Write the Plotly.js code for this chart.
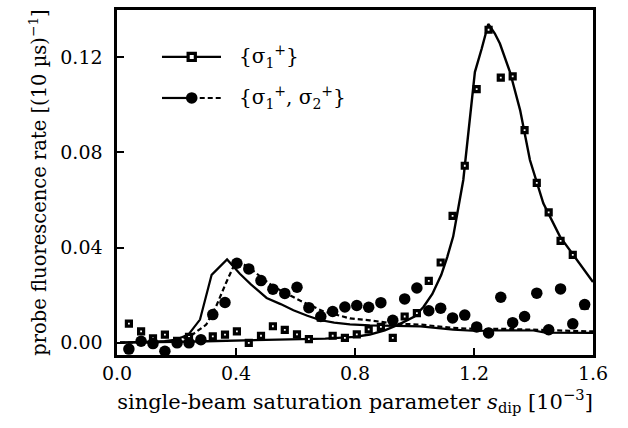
<!DOCTYPE html>
<html>
<head>
<meta charset="utf-8">
<script src="https://cdn.plot.ly/plotly-3.0.1.min.js"></script>
<style>html,body{margin:0;padding:0;background:#fff;}#chart{width:628px;height:428px;}</style>
</head>
<body>
<div id="chart"></div>
<script>
// measured sample positions (single-beam saturation parameter, 1e-3)
const sDip = [0.040,0.081,0.121,0.161,0.202,0.242,0.282,0.322,0.363,0.403,0.443,0.484,0.524,0.564,0.605,0.645,0.685,0.725,0.766,0.806,0.846,0.887,0.927,0.967,1.008,1.048,1.088,1.128,1.169,1.209,1.249,1.290,1.330,1.370,1.411,1.451,1.491,1.532,1.572];
// {sigma1+} measured rate
const rateS1 = [0.0080,0.0047,0.0018,0.0034,0.0008,0.0024,0.0012,0.0026,0.0034,0.0047,-0.0001,0.0029,0.0069,0.0054,0.0035,0.0015,0.0105,0.0029,0.0020,0.0035,0.0056,0.0066,0.0020,0.0110,0.0124,0.0260,0.0337,0.0533,0.0744,0.1066,0.1316,0.1115,0.1120,0.0894,0.0672,0.0548,0.0428,0.0369,0.0156];
// {sigma1+, sigma2+} measured rate
const rateS12 = [-0.0027,0.0006,-0.0004,-0.0036,-0.0001,-0.0001,0.0012,0.0118,0.0169,0.0334,0.0310,0.0261,0.0225,0.0207,0.0233,0.0147,0.0110,0.0131,0.0150,0.0156,0.0149,0.0168,0.0094,0.0184,0.0230,0.0134,0.0145,0.0104,0.0116,0.0066,0.0041,0.0191,0.0084,0.0110,0.0208,0.0054,0.0226,0.0079,0.0160];

// model curve for {sigma1+}
const modelS1x = [0.01,0.1,0.2,0.3,0.4,0.5,0.6,0.7,0.8,0.85,0.9,0.95,1.0,1.03,1.06,1.09,1.11,1.13,1.164,1.203,1.226,1.248,1.27,1.287,1.321,1.355,1.388,1.433,1.489,1.545,1.6];
const modelS1y = [0.0000,0.0000,0.0003,0.0006,0.0009,0.0011,0.0013,0.0017,0.0024,0.0034,0.0052,0.0078,0.0110,0.0150,0.0205,0.0285,0.0360,0.0446,0.0684,0.1138,0.1237,0.1340,0.1300,0.1258,0.1138,0.0978,0.0768,0.0586,0.0446,0.0348,0.0255];

// model curves for {sigma1+, sigma2+}
const modelS12x = [0.01,0.1,0.16,0.2,0.24,0.279,0.318,0.37,0.413,0.45,0.503,0.55,0.593,0.64,0.682,0.73,0.783,0.85,0.93,1.02,1.13,1.21,1.3,1.4,1.44,1.5,1.6];
const modelS12y = [0.0000,0.0002,0.0006,0.0013,0.0034,0.0097,0.0285,0.0350,0.0290,0.0245,0.0188,0.0162,0.0136,0.0113,0.0095,0.0084,0.0077,0.0073,0.0071,0.0068,0.0055,0.0049,0.0052,0.0051,0.0042,0.0041,0.0041];
const modelS12bx = [0.01,0.1,0.2,0.254,0.3,0.333,0.366,0.389,0.411,0.45,0.48,0.525,0.615,0.693,0.783,0.85,0.93,1.02,1.13,1.21,1.3,1.4,1.5,1.6];
const modelS12by = [0.0000,0.0001,0.0006,0.0034,0.0076,0.0152,0.0250,0.0313,0.0341,0.0310,0.0280,0.0236,0.0177,0.0132,0.0102,0.0094,0.0080,0.0076,0.0062,0.0057,0.0058,0.0055,0.0050,0.0047];

const xTicks = [0.0,0.4,0.8,1.2,1.6];
const yTicks = [0.00,0.04,0.08,0.12];
const legendNames = ['{σ<sub>1</sub><sup>+</sup>}', '{σ<sub>1</sub><sup>+</sup>, σ<sub>2</sub><sup>+</sup>}'];

const FONT = 'DejaVu Serif, serif';

const traces = [
  {x: modelS1x, y: modelS1y, mode: 'lines', line: {color: '#000', width: 2.4}, showlegend: false, hoverinfo: 'skip'},
  {x: modelS12x, y: modelS12y, mode: 'lines', line: {color: '#000', width: 2.2}, showlegend: false, hoverinfo: 'skip'},
  {x: modelS12bx, y: modelS12by, mode: 'lines', line: {color: '#000', width: 2.2, dash: '5px,3px'}, showlegend: false, hoverinfo: 'skip'},
  {x: sDip, y: rateS1, mode: 'markers', marker: {symbol: 'square', size: 5, color: '#fff', line: {color: '#000', width: 3.2}}, showlegend: false, cliponaxis: false},
  {x: sDip, y: rateS12, mode: 'markers', marker: {symbol: 'circle', size: 11.5, color: '#000', line: {width: 0}}, showlegend: false, cliponaxis: false}
];

// legend drawn in paper coordinates
const lgX0 = 0.0945, lgX1 = 0.2185, lgXm = 0.157, lgTx = 0.252;
const lgY1 = 0.864, lgY2 = 0.745;
const shapes = [
  {type:'line', xref:'paper', yref:'paper', x0:lgX0, x1:lgX1, y0:lgY1, y1:lgY1, line:{color:'#000', width:2.4}},
  {type:'rect', xref:'paper', yref:'paper', xsizemode:'pixel', ysizemode:'pixel', xanchor:lgXm, yanchor:lgY1, x0:-3.6, x1:3.6, y0:-3.6, y1:3.6, fillcolor:'#fff', line:{color:'#000', width:3.2}},
  {type:'line', xref:'paper', yref:'paper', x0:lgX0, x1:lgXm, y0:lgY2, y1:lgY2, line:{color:'#000', width:2.2}},
  {type:'line', xref:'paper', yref:'paper', x0:lgXm, x1:lgX1, y0:lgY2, y1:lgY2, line:{color:'#000', width:2.2, dash:'5px,3px'}},
  {type:'circle', xref:'paper', yref:'paper', xsizemode:'pixel', ysizemode:'pixel', xanchor:lgXm, yanchor:lgY2, x0:-5.8, x1:5.8, y0:-5.8, y1:5.8, fillcolor:'#000', line:{color:'#000', width:0}}
];
const annotations = legendNames.map((t, i) => ({
  text: t, xref:'paper', yref:'paper', x: lgTx, y: i === 0 ? lgY1 : lgY2, xanchor:'left', yanchor:'middle',
  showarrow:false, font:{family: FONT, size: 20, color:'#000'}
}));

const layout = {
  width: 628, height: 428,
  margin: {l: 117, r: 35, t: 10, b: 73},
  paper_bgcolor: '#fff', plot_bgcolor: '#fff',
  font: {family: FONT, size: 19, color: '#000'},
  showlegend: false,
  xaxis: {
    range: [0, 1.6], tickvals: xTicks, tickformat: '.1f',
    ticks: 'inside', ticklen: 7, tickwidth: 2, tickcolor: '#000',
    showline: true, linewidth: 2.6, linecolor: '#000', mirror: true,
    showgrid: false, zeroline: false,
    tickfont: {family: FONT, size: 19, color: '#000'},
    title: {text: 'single-beam saturation parameter <i>s</i><sub>dip</sub> [10<sup>−3</sup>]', font: {family: FONT, size: 21, color: '#000'}, standoff: 11}
  },
  yaxis: {
    range: [-0.0052, 0.1399], tickvals: yTicks, tickformat: '.2f',
    ticks: 'inside', ticklen: 7, tickwidth: 2, tickcolor: '#000',
    showline: true, linewidth: 2.6, linecolor: '#000', mirror: true,
    showgrid: false, zeroline: false,
    tickfont: {family: FONT, size: 19, color: '#000'},
    ticklabelstandoff: 8,
    title: {text: 'probe fluorescence rate [(10 µs)<sup>−1</sup>]', font: {family: FONT, size: 19.5, color: '#000'}, standoff: 9}
  },
  shapes: shapes,
  annotations: annotations
};

Plotly.newPlot('chart', traces, layout, {staticPlot: true, displayModeBar: false});
</script>
</body>
</html>
